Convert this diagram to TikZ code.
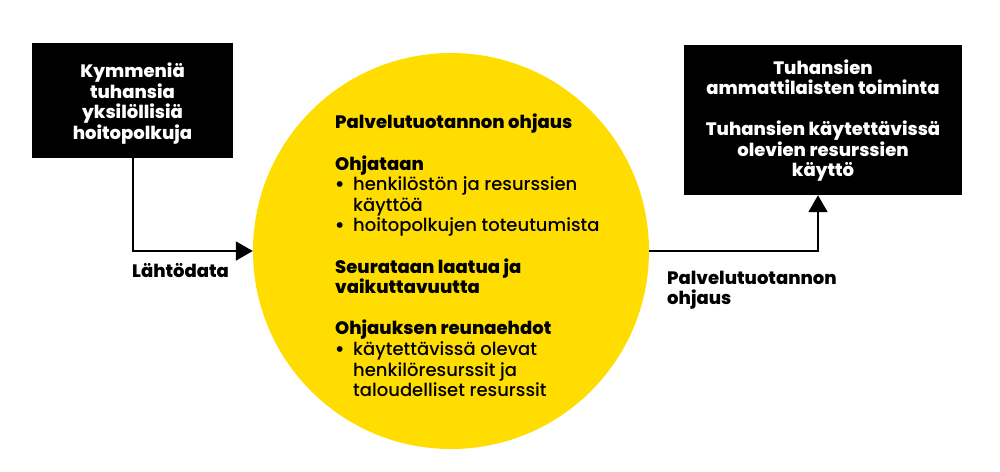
\documentclass[tikz,border=0pt]{standalone}
\usepackage{fontspec}
\setmainfont{Poppins}[UprightFont={* Medium}, BoldFont={* ExtraBold}]
\usetikzlibrary{arrows.meta}
\definecolor{ylw}{HTML}{FFDD00}
\tikzset{
  blackbox/.style={fill=black, draw=none, inner sep=0pt},
  boxtext/.style={text=white, align=center, font=\bfseries\fontsize{18}{20.5}\selectfont, inner sep=0pt},
  circtext/.style={align=left, font=\fontsize{18}{20.6}\selectfont, inner sep=0pt, anchor=north west},
  lbl/.style={align=left, font=\bfseries\fontsize{18}{20}\selectfont, inner sep=0pt, anchor=north west},
  conn/.style={draw=black, line width=2pt, -{Triangle[length=17pt,width=19pt]}}
}
\newcommand{\bul}{\makebox[18pt][l]{\bfseries•}}
\newcommand{\ind}{\hspace*{18pt}}
\begin{document}
\begin{tikzpicture}[x=1pt,y=-1pt]
\useasboundingbox (0,0) rectangle (1000,471);
\node[circle, fill=ylw, minimum size=396pt, inner sep=0pt] (circ) at (451,251) {};
\node[blackbox, minimum width=201pt, minimum height=115pt] (src) at (132.5,100.5) {};
\node[boxtext] (srct) at (132.5,103.5) {Kymmeniä\\tuhansia\\yksilöllisiä\\hoitopolkuja};
\node[blackbox, minimum width=278pt, minimum height=150pt] (dst) at (823,120) {};
\node[boxtext] (dstt) at (823,120.5) {Tuhansien\\ammattilaisten toiminta\\[20.5pt]Tuhansien käytettävissä\\olevien resurssien\\käyttö};
\node[circtext] (ctext) at (335,114) {%
{\bfseries Palvelutuotannon ohjaus}\\[20.6pt]
{\bfseries Ohjataan}\\
\bul henkilöstön ja resurssien\\
\ind käyttöä\\
\bul hoitopolkujen toteutumista\\[20.6pt]
{\bfseries Seurataan laatua ja}\\
{\bfseries vaikuttavuutta}\\[20.6pt]
{\bfseries Ohjauksen reunaehdot}\\
\bul käytettävissä olevat\\
\ind henkilöresurssit ja\\
\ind taloudelliset resurssit};
\draw[conn] (src.south) |- (circ.west);
\draw[conn] (circ.east) -| ([xshift=-5pt]dst.south);
\node[lbl] (lbl1) at (132,263) {Lähtödata};
\node[lbl] (lbl2) at (667,271) {Palvelutuotannon\\ohjaus};
\end{tikzpicture}
\end{document}
